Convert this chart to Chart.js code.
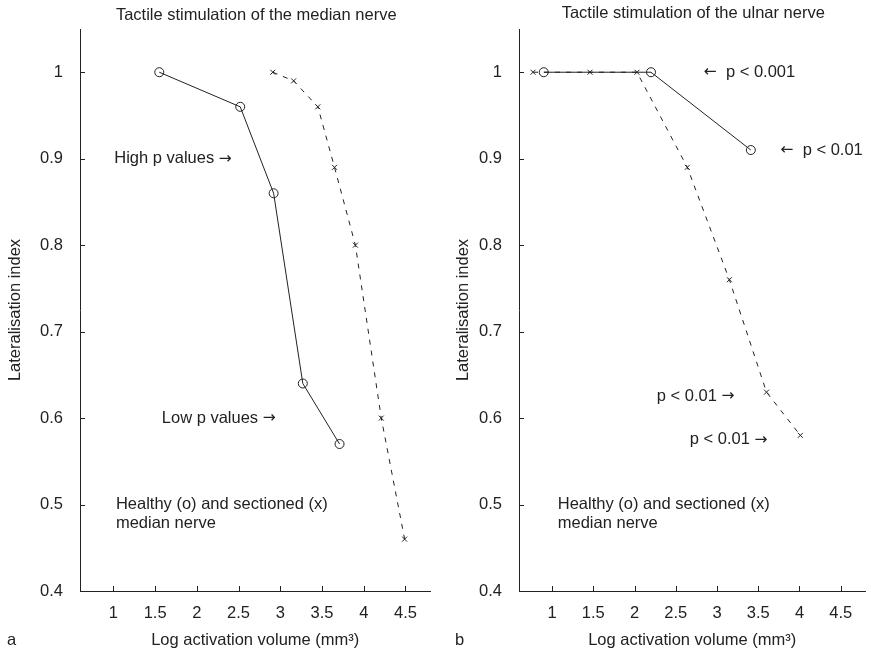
<!DOCTYPE html>
<html>
<head>
<meta charset="utf-8">
<script src="https://cdn.jsdelivr.net/npm/chart.js@4/dist/chart.umd.min.js"></script>
<style>
  html, body { margin: 0; padding: 0; background: #fff; }
  #wrap { position: relative; width: 871px; height: 649px; }
  .panel { position: absolute; top: 0; height: 649px; }
</style>
</head>
<body>
<div id="wrap">
  <div class="panel" style="left:0;width:436px;"><canvas id="cA"></canvas></div>
  <div class="panel" style="left:436px;width:435px;"><canvas id="cB"></canvas></div>
</div>
<script>
// ---- Data ----
const xTicks = [1, 1.5, 2, 2.5, 3, 3.5, 4, 4.5];
const yTicks = [0.4, 0.5, 0.6, 0.7, 0.8, 0.9, 1];

// Panel a: median nerve
const medianHealthyX   = [1.55, 2.52, 2.92, 3.27, 3.71];
const medianHealthyY   = [1.00, 0.96, 0.86, 0.64, 0.57];
const medianSectionedX = [2.91, 3.16, 3.45, 3.65, 3.90, 4.21, 4.49];
const medianSectionedY = [1.00, 0.99, 0.96, 0.89, 0.80, 0.60, 0.46];

// Panel b: ulnar nerve
const ulnarHealthyX   = [0.90, 2.20, 3.41];
const ulnarHealthyY   = [1.00, 1.00, 0.91];
const ulnarSectionedX = [0.77, 1.46, 2.03, 2.64, 3.15, 3.60, 4.01];
const ulnarSectionedY = [1.00, 1.00, 1.00, 0.89, 0.76, 0.63, 0.58];

const titleA = 'Tactile stimulation of the median nerve';
const titleB = 'Tactile stimulation of the ulnar nerve';
const xTitle = 'Log activation volume (mm³)';
const yTitle = 'Lateralisation index';

// annotations: [text, x (data), y (data)]
const notesA = [
  ['High p values \u2192', 1.01, 0.90],
  ['Low p values \u2192', 1.58, 0.60],
  ['Healthy (o) and sectioned (x)', 1.03, 0.50],
  ['median nerve', 1.03, 0.478]
];
const notesB = [
  ['\u2190  p < 0.001', 2.84, 1.00],
  ['\u2190  p < 0.01', 3.77, 0.91],
  ['p < 0.01 \u2192', 2.27, 0.625],
  ['p < 0.01 \u2192', 2.67, 0.575],
  ['Healthy (o) and sectioned (x)', 1.07, 0.50],
  ['median nerve', 1.07, 0.478]
];

const FONT = '"Liberation Sans", Arial, Helvetica, sans-serif';
const ARROWFONT = '"DejaVu Sans", sans-serif';
const FS = 16.5;
const INK = '#222';

function pts(xs, ys) { return xs.map((x, i) => ({ x: x, y: ys[i] })); }

// draw text left-aligned, arrows in a font with long arrow glyphs
function drawMixed(ctx, text, x, y) {
  const parts = text.split(/([\u2190\u2192])/);
  let cx = x;
  parts.forEach(p => {
    if (!p) return;
    ctx.font = (/[\u2190\u2192]/.test(p) ? (FS - 1) + 'px ' + ARROWFONT : FS + 'px ' + FONT);
    ctx.fillText(p, cx, y);
    cx += ctx.measureText(p).width;
  });
  ctx.font = FS + 'px ' + FONT;
}

function makeChart(id, healthy, sectioned, title, notes, letter, opts) {
  const extras = {
    id: 'extras',
    afterDraw(chart) {
      const ctx = chart.ctx;
      const xs = chart.scales.x, ys = chart.scales.y;
      const ca = chart.chartArea;
      ctx.save();
      // inward tick marks
      ctx.strokeStyle = INK; ctx.lineWidth = 1;
      xTicks.forEach(v => {
        const px = Math.round(xs.getPixelForValue(v)) + 0.5;
        ctx.beginPath(); ctx.moveTo(px, ca.bottom); ctx.lineTo(px, ca.bottom - 5); ctx.stroke();
      });
      yTicks.forEach(v => {
        const py = Math.round(ys.getPixelForValue(v)) + 0.5;
        ctx.beginPath(); ctx.moveTo(ca.left, py); ctx.lineTo(ca.left + 5, py); ctx.stroke();
      });
      ctx.fillStyle = INK;
      ctx.font = FS + 'px ' + FONT;
      // title
      ctx.textAlign = 'center'; ctx.textBaseline = 'middle';
      ctx.fillText(title, (ca.left + ca.right) / 2 + opts.titleDx, opts.titleY);
      // x title
      ctx.fillText(xTitle, (ca.left + ca.right) / 2, 640);
      // y title
      ctx.save();
      ctx.translate(opts.yTitleX, (ca.top + ca.bottom) / 2);
      ctx.rotate(-Math.PI / 2);
      ctx.fillText(yTitle, 0, 0);
      ctx.restore();
      // panel letter
      ctx.textAlign = 'left';
      ctx.fillText(letter, opts.letterX, 640);
      // annotations
      notes.forEach(n => {
        drawMixed(ctx, n[0], xs.getPixelForValue(n[1]), ys.getPixelForValue(n[2]));
      });
      ctx.restore();
    }
  };

  return new Chart(document.getElementById(id), {
    type: 'scatter',
    data: {
      datasets: [
        {
          data: pts(sectioned[0], sectioned[1]),
          showLine: true,
          borderColor: INK, borderWidth: 1, borderDash: [5, 6],
          pointStyle: 'crossRot', pointRadius: 3.5, pointBorderWidth: 1,
          pointBorderColor: INK, pointBackgroundColor: 'transparent'
        },
        {
          data: pts(healthy[0], healthy[1]),
          showLine: true,
          borderColor: INK, borderWidth: 1,
          pointStyle: 'circle', pointRadius: 4.5, pointBorderWidth: 1,
          pointBorderColor: INK, pointBackgroundColor: 'transparent'
        }
      ]
    },
    options: {
      responsive: true,
      maintainAspectRatio: false,
      animation: false,
      events: [],
      layout: { padding: { top: 29, right: opts.padRight, left: 0, bottom: 0 } },
      plugins: { legend: { display: false }, tooltip: { enabled: false }, title: { display: false } },
      scales: {
        x: {
          type: 'linear', min: 0.6, max: 4.8,
          afterBuildTicks: s => { s.ticks = xTicks.map(v => ({ value: v })); },
          afterFit: s => { s.height = 58; },
          grid: { display: false },
          border: { display: true, color: INK, width: 1 },
          ticks: { color: INK, font: { family: FONT, size: FS }, padding: 5, maxRotation: 0,
                   callback: v => String(v) }
        },
        y: {
          type: 'linear', min: 0.4, max: 1.05,
          afterBuildTicks: s => { s.ticks = yTicks.map(v => ({ value: v })); },
          afterFit: s => { s.width = opts.yWidth; },
          grid: { display: false },
          border: { display: true, color: INK, width: 1 },
          ticks: { color: INK, font: { family: FONT, size: FS }, padding: 9,
                   callback: v => String(v) }
        }
      }
    },
    plugins: [extras]
  });
}

makeChart('cA', [medianHealthyX, medianHealthyY], [medianSectionedX, medianSectionedY],
  titleA, notesA, 'a', { padRight: 4, yWidth: 80, titleY: 15, titleDx: 1, yTitleX: 15, letterX: 7 });
makeChart('cB', [ulnarHealthyX, ulnarHealthyY], [ulnarSectionedX, ulnarSectionedY],
  titleB, notesB, 'b', { padRight: 0, yWidth: 83, titleY: 13, titleDx: 1, yTitleX: 27, letterX: 19 });
</script>
</body>
</html>
